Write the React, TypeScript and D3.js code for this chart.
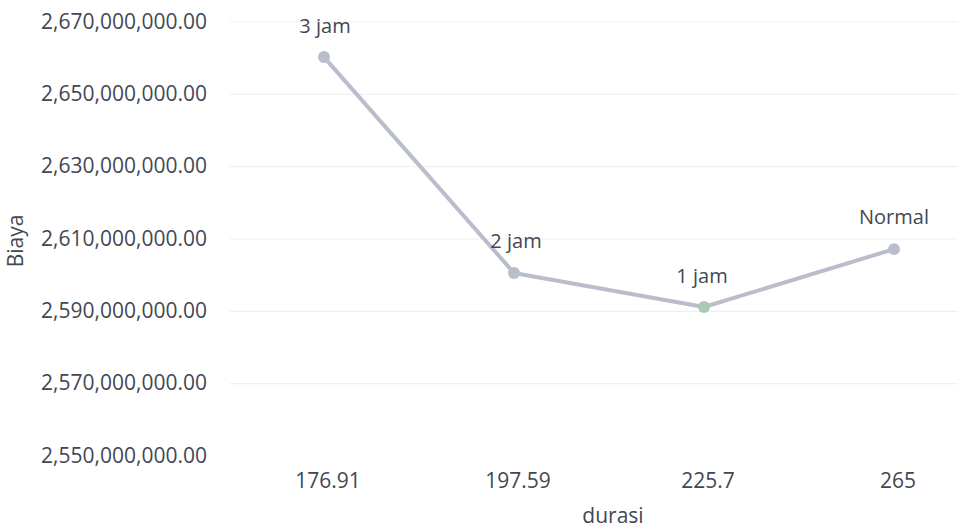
import React from "react";
import * as d3 from "d3";

const categories = ["176.91", "197.59", "225.7", "265"];
const biaya = [2660300000, 2600600000, 2591200000, 2607200000];
const pointLabels = ["3 jam", "2 jam", "1 jam", "Normal"];
const yTicks = [2550000000, 2570000000, 2590000000, 2610000000, 2630000000, 2650000000, 2670000000];

const W = 969;
const H = 529;
const FONT = "'Open Sans', sans-serif";
const TEXT = "#434753";

export default function App() {
  const x = d3.scalePoint<string>().domain(categories).range([324, 894]);
  const y = d3.scaleLinear().domain([2550000000, 2670000000]).range([456, 22]);
  const fmt = d3.format(",.2f");
  const line = d3
    .line<number>()
    .x((_, i) => x(categories[i]) as number)
    .y((d) => y(d));

  const labelOffsets = [
    { dx: 1, dy: -29 },
    { dx: 2, dy: -30 },
    { dx: -2, dy: -29 },
    { dx: 0, dy: -30 },
  ];

  return (
    <svg width={W} height={H} style={{ position: "absolute", left: 0, top: 0, background: "#fff" }}>
      <rect x={0} y={0} width={W} height={H} fill="#fff" />
      {yTicks.map((t) =>
        t === 2550000000 ? null : (
          <line key={"g" + t} x1={230} x2={958} y1={y(t)} y2={y(t)} stroke="#f0f0f2" strokeWidth={1.2} />
        )
      )}
      {yTicks.map((t) => (
        <text
          key={"t" + t}
          x={207}
          y={y(t) + 1}
          textAnchor="end"
          dominantBaseline="middle"
          fontFamily={FONT}
          fontSize={21}
          fill={TEXT}
        >
          {fmt(t)}
        </text>
      ))}
      {categories.map((c) => (
        <text
          key={"c" + c}
          x={(x(c) as number) + 4}
          y={482}
          textAnchor="middle"
          dominantBaseline="middle"
          fontFamily={FONT}
          fontSize={21}
          fill={TEXT}
        >
          {c}
        </text>
      ))}
      <path d={line(biaya) || ""} fill="none" stroke="#b9bdcc" strokeWidth={4} strokeLinejoin="round" />
      {biaya.map((v, i) => (
        <circle
          key={"p" + i}
          cx={x(categories[i]) as number}
          cy={y(v)}
          r={6}
          fill={i === 2 ? "#a9c9b6" : "#b9bdcc"}
        />
      ))}
      {biaya.map((v, i) => (
        <text
          key={"l" + i}
          x={(x(categories[i]) as number) + labelOffsets[i].dx}
          y={y(v) + labelOffsets[i].dy}
          textAnchor="middle"
          dominantBaseline="middle"
          fontFamily={FONT}
          fontSize={20}
          fill={TEXT}
        >
          {pointLabels[i]}
        </text>
      ))}
      <text
        x={17}
        y={241}
        transform="rotate(-90 17 241)"
        textAnchor="middle"
        dominantBaseline="middle"
        fontFamily={FONT}
        fontSize={21}
        fill={TEXT}
      >
        Biaya
      </text>
      <text x={613} y={517} textAnchor="middle" dominantBaseline="middle" fontFamily={FONT} fontSize={21} fill={TEXT}>
        durasi
      </text>
    </svg>
  );
}
